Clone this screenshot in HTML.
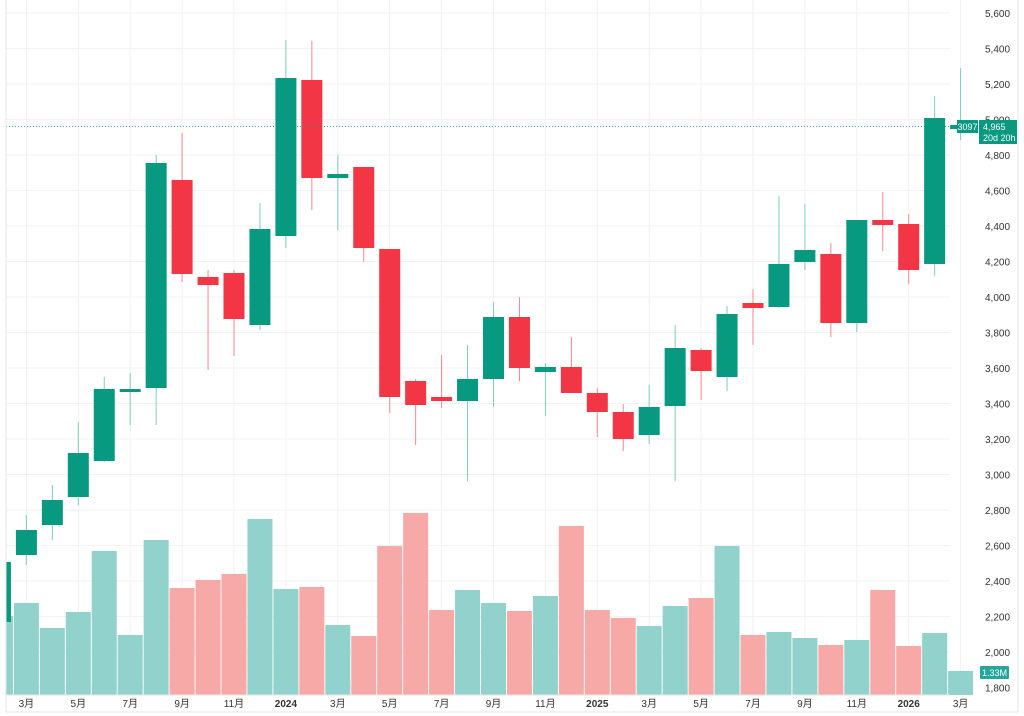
<!DOCTYPE html>
<html><head><meta charset="utf-8"><style>
html,body{margin:0;padding:0;background:#fff;width:1024px;height:716px;overflow:hidden}
svg{display:block;font-family:"Liberation Sans","Noto Sans CJK SC",sans-serif}
</style></head><body>
<svg id="c" width="1024" height="716" xmlns="http://www.w3.org/2000/svg"></svg>
<script>
const s=document.getElementById('c');let h='';
const X=m=>-25.5+25.95*m;
for(let p=1800;p<=5600;p+=200){const y=13+(5600-p)/200*35.5;h+=`<line x1="6" x2="950" y1="${y}" y2="${y}" stroke="#f2f2f3"/>`;h+=`<text x="985" y="${y+4}" font-size="10" fill="#333">${p.toLocaleString('en-US')}</text>`;}
const labs=[[2,'3月'],[4,'5月'],[6,'7月'],[8,'9月'],[10,'11月'],[12,'2024'],[14,'3月'],[16,'5月'],[18,'7月'],[20,'9月'],[22,'11月'],[24,'2025'],[26,'3月'],[28,'5月'],[30,'7月'],[32,'9月'],[34,'11月'],[36,'2026'],[38,'3月']];
labs.forEach(([m,t])=>{const x=X(m);h+=`<line x1="${x}" x2="${x}" y1="0" y2="695" stroke="#f2f2f3"/>`;h+=`<text x="${x}" y="707" font-size="10" fill="#333" text-anchor="middle" ${t.length==4?'font-weight="bold"':''}>${t}</text>`;});
const vol=[[1,616,1],[2,603,1],[3,628,1],[4,612,1],[5,551,1],[6,635,1],[7,540,1],[8,588,0],[9,580,0],[10,574,0],[11,519,1],[12,589,1],[13,587,0],[14,625,1],[15,636,0],[16,546,0],[17,513,0],[18,610,0],[19,590,1],[20,603,1],[21,611,0],[22,596,1],[23,526,0],[24,610,0],[25,618,0],[26,626,1],[27,606,1],[28,598,0],[29,546,1],[30,635,0],[31,632,1],[32,638,1],[33,645,0],[34,640,1],[35,590,0],[36,646,0],[37,633,1],[38,671,1]];
vol.forEach(([m,t,g])=>{let x=X(m)-12.5,w=25;if(x<6){w-=6-x;x=6;}h+=`<rect x="${x}" y="${t}" width="${w}" height="${695-t}" fill="${g?'#92d2cc':'#f7a9a7'}"/>`;});
const c=[[1,562,622,560,622,1],[2,530,555,515,565,1],[3,500,525,485,540,1],[4,453,497,422,505,1],[5,389,461,377,462,1],[6,389,391,373,425,1],[7,163,388,155,425,1],[8,180,274,133,282,0],[9,277,285,270,370,0],[10,273,319,270,356,0],[11,229,325,203,330,1],[12,78,236,40,248,1],[13,80,178,41,210,0],[14,174,178,155,230,1],[15,167,248,167,262,0],[16,249,397,249,413,0],[17,381,405,379,445,0],[18,397,401,355,408,0],[19,379,401,345,481,1],[20,317,379,302,407,1],[21,317,368,297,381,0],[22,367,372,363,416,1],[23,367,393,337,393,0],[24,393,412,388,437,0],[25,412,439,404,451,0],[26,407,435,385,444,1],[27,348,406,325,481,1],[28,350,371,348,400,0],[29,314,377,306,391,1],[30,303,308,289,345,0],[31,264,307,196,308,1],[32,250,262,204,270,1],[33,254,323,243,337,0],[34,220,323,220,332,1],[35,220,225,192,251,0],[36,224,270,214,284,0],[37,118,264,96,276,1],[38,125,129,68,140,1]];
c.forEach(([m,bt,bb,wt,wb,g])=>{const x=X(m);const col=g?'#089981':'#f23645',wc=g?'#7ccdbf':'#f7868f';
if(m>1)h+=`<line x1="${x}" x2="${x}" y1="${wt}" y2="${wb}" stroke="${wc}" stroke-width="1"/>`;
let bx=x-10.5,bw=21;if(bx<6){bw-=6-bx;bx=6;}
h+=`<rect x="${bx}" y="${bt}" width="${bw}" height="${Math.max(bb-bt,3)}" fill="${col}"/>`;});
h+=`<line x1="6" x2="950" y1="126.5" y2="126.5" stroke="#089981" stroke-dasharray="1,2" opacity="0.8"/>`;
h+=`<rect x="957" y="120" width="21" height="13" fill="#089981"/><text x="967.5" y="130" font-size="9" fill="#fff" text-anchor="middle">3097</text>`;
h+=`<rect x="979" y="120" width="38" height="24" fill="#089981"/><text x="983" y="130" font-size="9" fill="#fff">4,965</text><text x="983" y="141" font-size="9" fill="#fff">20d 20h</text>`;
h+=`<rect x="980" y="666" width="29" height="13" rx="1" fill="#26a69a"/><text x="994.5" y="676" font-size="9" fill="#fff" text-anchor="middle">1.33M</text>`;
h+=`<line x1="6" x2="6" y1="0" y2="712" stroke="#e6e6e6"/><line x1="6" x2="1018" y1="712" y2="712" stroke="#e6e6e6"/><line x1="1018" x2="1018" y1="0" y2="712" stroke="#e6e6e6"/><line x1="6" x2="950" y1="695" y2="695" stroke="#e6e6e6"/>`;
s.innerHTML=h;
</script>
</body></html>
